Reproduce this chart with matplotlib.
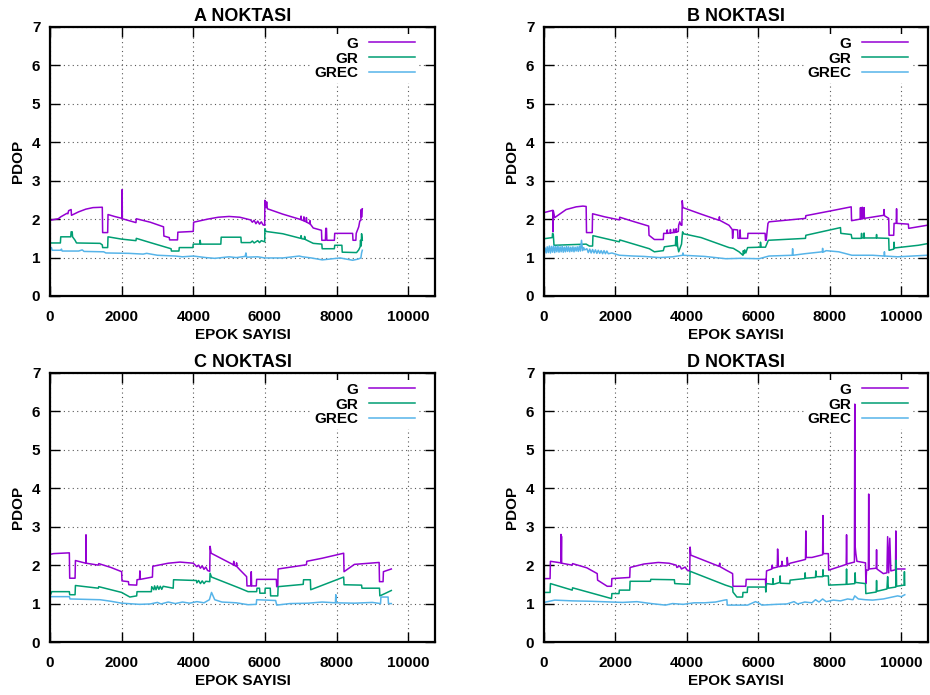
import numpy as np
import matplotlib
matplotlib.use('Agg')
import matplotlib.pyplot as plt

plt.rcParams['font.family'] = ['Liberation Sans', 'DejaVu Sans']
plt.rcParams['font.weight'] = 'bold'
plt.rcParams['axes.labelweight'] = 'bold'
plt.rcParams['path.simplify'] = False  # keep the one-epoch spikes at full height

# (epoch, PDOP) breakpoints, one list per station / system
a_g = [(0, 1.97), (230, 2.01), (300, 2.06), (470, 2.15), (500, 2.14), (520, 2.22), (590, 2.25), (600, 2.10),
       (800, 2.19), (1000, 2.26), (1200, 2.30), (1460, 2.31), (1470, 1.65), (1610, 1.65), (1620, 2.12),
       (1800, 2.07), (2010, 2.02), (2015, 2.77), (2020, 2.01), (2400, 1.91), (2410, 2.01), (2800, 1.92),
       (3170, 1.80), (3180, 1.56), (3330, 1.52), (3340, 1.46), (3560, 1.46), (3570, 1.66), (4000, 1.68),
       (4010, 1.92), (4400, 2.00), (4700, 2.05), (5000, 2.07), (5300, 2.05), (5600, 1.98), (5650, 1.92),
       (5700, 1.97), (5750, 1.88), (5800, 1.95), (5850, 1.87), (5900, 1.93), (5950, 1.85), (5995, 1.84),
       (6000, 2.49), (6030, 2.30), (6050, 2.45), (6070, 2.27), (6500, 2.13), (7000, 1.99), (7010, 2.08),
       (7020, 1.98), (7080, 1.96), (7090, 2.06), (7100, 1.95), (7150, 1.93), (7160, 2.04), (7170, 1.92),
       (7250, 1.88), (7260, 1.96), (7270, 1.87), (7350, 1.77), (7580, 1.71), (7590, 1.45), (7690, 1.45),
       (7700, 1.76), (7720, 1.76), (7730, 1.45), (7940, 1.45), (7950, 1.63), (8450, 1.63), (8460, 1.45),
       (8540, 1.45), (8550, 1.63), (8620, 1.80), (8650, 1.95), (8680, 1.97), (8690, 2.25), (8700, 2.05),
       (8720, 2.27)]
a_gr = [(0, 1.38), (290, 1.38), (300, 1.54), (580, 1.54), (590, 1.67), (620, 1.67), (630, 1.54), (700, 1.45),
        (740, 1.38), (1400, 1.37), (1460, 1.33), (1470, 1.26), (1610, 1.26), (1620, 1.54), (2000, 1.48),
        (2400, 1.44), (2410, 1.50), (2800, 1.39), (3380, 1.23), (3390, 1.17), (3600, 1.17), (3610, 1.26),
        (3990, 1.26), (4000, 1.35), (4180, 1.35), (4190, 1.45), (4210, 1.35), (4770, 1.35), (4780, 1.53),
        (5330, 1.53), (5340, 1.39), (5600, 1.39), (5650, 1.43), (5700, 1.38), (5800, 1.44), (5850, 1.39),
        (5900, 1.44), (5995, 1.41), (6000, 1.75), (6030, 1.68), (6500, 1.62), (7000, 1.50), (7010, 1.57),
        (7030, 1.49), (7100, 1.48), (7110, 1.55), (7130, 1.47), (7350, 1.37), (7590, 1.35), (7600, 1.23),
        (7940, 1.23), (7950, 1.32), (8150, 1.32), (8160, 1.14), (8560, 1.13), (8620, 1.20), (8660, 1.28),
        (8670, 1.45), (8690, 1.30), (8700, 1.62), (8720, 1.45)]
a_grec = [(0, 1.23), (40, 1.26), (60, 1.19), (300, 1.19), (320, 1.22), (340, 1.17), (800, 1.17), (900, 1.20),
          (950, 1.16), (1500, 1.15), (1560, 1.12), (2200, 1.11), (2600, 1.09), (2700, 1.11), (3000, 1.06),
          (3500, 1.04), (3700, 1.02), (4000, 1.04), (4350, 1.00), (4600, 0.98), (5000, 1.02), (5200, 1.00),
          (5450, 1.03), (5470, 1.12), (5490, 1.01), (5800, 1.02), (6000, 0.99), (6500, 0.99), (6960, 1.04),
          (7050, 1.02), (7300, 0.99), (7600, 0.94), (7900, 0.97), (8100, 0.99), (8450, 0.93), (8600, 0.96),
          (8680, 0.99), (8700, 1.12), (8720, 1.19)]

b_g = [(0, 2.17), (250, 2.23), (255, 1.67), (260, 2.22), (300, 2.04), (620, 2.25), (900, 2.32), (1090, 2.34),
       (1180, 2.33), (1190, 1.65), (1350, 1.65), (1360, 2.14), (1700, 2.06), (2110, 1.98), (2120, 2.05),
       (2500, 1.94), (2930, 1.82), (2940, 1.58), (3090, 1.47), (3340, 1.47), (3350, 1.63), (3440, 1.63),
       (3450, 1.72), (3460, 1.63), (3530, 1.64), (3540, 1.73), (3550, 1.64), (3620, 1.65), (3630, 1.74),
       (3640, 1.65), (3690, 1.66), (3700, 1.75), (3710, 1.66), (3760, 1.68), (3770, 1.84), (3800, 1.93),
       (3830, 1.85), (3860, 1.84), (3870, 2.48), (3890, 2.30), (4400, 2.13), (4900, 1.97), (4910, 2.06),
       (4920, 1.97), (5180, 1.84), (5270, 1.73), (5280, 1.50), (5300, 1.73), (5420, 1.72), (5430, 1.50),
       (5480, 1.50), (5490, 1.72), (5500, 1.50), (5700, 1.50), (5710, 1.63), (6190, 1.63), (6200, 1.45),
       (6220, 1.45), (6270, 1.89), (6300, 1.93), (7320, 2.02), (7330, 2.09), (8000, 2.21), (8600, 2.32),
       (8610, 1.96), (8850, 2.00), (8860, 2.30), (8870, 2.00), (8900, 2.01), (8910, 2.31), (8920, 2.01),
       (8950, 2.02), (8960, 2.30), (8970, 2.02), (9510, 2.10), (9520, 2.25), (9530, 2.09), (9650, 2.02),
       (9660, 1.58), (9790, 1.58), (9800, 1.89), (9860, 1.89), (9870, 2.27), (9880, 1.89), (10200, 1.87),
       (10210, 1.76), (10720, 1.84)]
b_gr = [(0, 1.49), (230, 1.52), (240, 1.63), (260, 1.60), (280, 1.32), (1180, 1.35), (1270, 1.30), (1360, 1.30),
        (1370, 1.57), (2110, 1.41), (2120, 1.46), (2950, 1.23), (3090, 1.15), (3340, 1.18), (3370, 1.28),
        (3680, 1.32), (3690, 1.54), (3700, 1.30), (3720, 1.55), (3740, 1.30), (3770, 1.15), (3850, 1.35),
        (3880, 1.67), (3900, 1.62), (4400, 1.52), (5180, 1.26), (5300, 1.24), (5460, 1.15), (5570, 1.06),
        (5580, 1.18), (5600, 1.10), (5620, 1.20), (5650, 1.12), (5700, 1.26), (6050, 1.27), (6060, 1.40),
        (6080, 1.27), (6200, 1.27), (6280, 1.45), (7320, 1.50), (7330, 1.58), (8300, 1.78), (8310, 1.63),
        (8600, 1.60), (8620, 1.50), (8880, 1.50), (8890, 1.63), (8900, 1.51), (8950, 1.51), (8960, 1.64),
        (8970, 1.51), (9300, 1.51), (9310, 1.60), (9320, 1.51), (9650, 1.50), (9660, 1.19), (9790, 1.22),
        (9800, 1.40), (9810, 1.25), (10480, 1.32), (10720, 1.36)]
b_grec = [(0, 1.14), (30, 1.25), (60, 1.12), (90, 1.28), (120, 1.13), (150, 1.30), (180, 1.12), (210, 1.29),
          (240, 1.14), (270, 1.31), (300, 1.13), (330, 1.29), (360, 1.15), (390, 1.30), (420, 1.14), (450, 1.28),
          (480, 1.15), (510, 1.30), (540, 1.14), (570, 1.27), (600, 1.15), (630, 1.29), (660, 1.16), (690, 1.28),
          (720, 1.15), (750, 1.27), (780, 1.16), (810, 1.28), (840, 1.15), (870, 1.27), (900, 1.17), (930, 1.28),
          (960, 1.16), (990, 1.30), (1020, 1.17), (1050, 1.45), (1080, 1.18), (1110, 1.26), (1140, 1.20),
          (1200, 1.23), (1240, 1.13), (1280, 1.22), (1320, 1.12), (1360, 1.21), (1400, 1.12), (1440, 1.20),
          (1480, 1.11), (1520, 1.19), (1560, 1.11), (1600, 1.18), (1640, 1.10), (1680, 1.18), (1720, 1.10),
          (1760, 1.17), (1800, 1.10), (1900, 1.12), (2110, 1.06), (2500, 1.04), (2800, 1.03), (3230, 1.00),
          (3600, 1.02), (3880, 1.06), (3890, 1.12), (3900, 1.06), (4500, 1.03), (5090, 0.97), (5500, 0.98),
          (6020, 0.97), (6300, 1.04), (6950, 1.06), (6960, 1.23), (6970, 1.06), (7300, 1.10), (7790, 1.15),
          (7800, 1.24), (7810, 1.14), (7900, 1.18), (8250, 1.15), (8620, 1.06), (9200, 1.06), (9520, 1.04),
          (9530, 1.15), (9540, 1.04), (9900, 1.02), (10720, 1.06)]

c_g = [(0, 2.28), (100, 2.30), (540, 2.32), (550, 1.66), (700, 1.66), (710, 2.12), (1000, 2.05), (1005, 2.79),
       (1010, 2.05), (1350, 2.00), (1360, 2.04), (1700, 1.94), (2000, 1.83), (2010, 1.59), (2190, 1.57),
       (2200, 1.49), (2420, 1.48), (2430, 1.62), (2500, 1.63), (2510, 1.85), (2520, 1.63), (2860, 1.69),
       (2870, 1.97), (3300, 2.05), (3630, 2.08), (4000, 2.05), (4100, 1.96), (4150, 2.00), (4200, 1.92),
       (4250, 1.98), (4300, 1.89), (4350, 1.95), (4400, 1.86), (4460, 1.84), (4470, 2.49), (4500, 2.31),
       (5120, 2.01), (5130, 2.10), (5140, 2.00), (5200, 1.97), (5210, 2.06), (5220, 1.96), (5300, 1.88),
       (5490, 1.70), (5500, 1.46), (5610, 1.46), (5620, 1.83), (5630, 1.46), (5760, 1.46), (5770, 1.63),
       (6320, 1.63), (6330, 1.44), (6360, 1.44), (6370, 1.90), (7160, 2.01), (7170, 2.10), (7600, 2.18),
       (8200, 2.31), (8210, 1.83), (8500, 2.02), (9190, 2.07), (9200, 1.57), (9300, 1.57), (9310, 1.83),
       (9530, 1.90)]
c_gr = [(0, 1.20), (50, 1.31), (540, 1.31), (550, 1.23), (700, 1.23), (710, 1.47), (1350, 1.40), (1360, 1.44),
        (2000, 1.29), (2230, 1.17), (2420, 1.20), (2430, 1.31), (2830, 1.31), (2840, 1.44), (2900, 1.36),
        (2920, 1.46), (2960, 1.36), (3000, 1.46), (3040, 1.37), (3080, 1.45), (3120, 1.37), (3160, 1.45),
        (3440, 1.40), (3450, 1.62), (4090, 1.60), (4100, 1.54), (4150, 1.60), (4200, 1.52), (4250, 1.59),
        (4300, 1.52), (4350, 1.58), (4460, 1.57), (4470, 1.79), (4510, 1.69), (5300, 1.40), (5530, 1.31),
        (5770, 1.31), (5780, 1.40), (5850, 1.40), (5860, 1.27), (6000, 1.27), (6010, 1.40), (6150, 1.40),
        (6160, 1.20), (6360, 1.20), (6370, 1.44), (7070, 1.50), (7080, 1.62), (7270, 1.62), (7280, 1.36),
        (8200, 1.69), (8210, 1.49), (8700, 1.48), (8710, 1.40), (9200, 1.40), (9210, 1.20), (9350, 1.26),
        (9530, 1.34)]
c_grec = [(0, 1.18), (540, 1.18), (560, 1.12), (1400, 1.10), (1700, 1.06), (2000, 1.01), (2500, 0.98),
          (2800, 0.99), (3000, 1.03), (3100, 0.99), (3300, 1.04), (3500, 1.00), (3700, 1.04), (3900, 1.01),
          (4100, 1.05), (4300, 1.02), (4450, 1.10), (4510, 1.29), (4600, 1.10), (4800, 1.04), (5200, 1.02),
          (5530, 0.97), (5760, 0.98), (5770, 1.10), (6300, 1.08), (6330, 0.96), (6700, 1.00), (7200, 1.01),
          (7600, 1.04), (7970, 1.02), (7980, 1.23), (7990, 1.02), (8500, 1.01), (9000, 1.03), (9230, 1.00),
          (9240, 1.17), (9440, 1.17), (9450, 1.00), (9530, 1.00)]

d_g = [(0, 1.65), (170, 1.65), (180, 2.10), (470, 2.06), (475, 2.80), (480, 2.06), (490, 2.75), (495, 2.05),
       (790, 2.00), (800, 2.04), (1200, 1.93), (1490, 1.78), (1500, 1.61), (1770, 1.45), (1890, 1.45),
       (1900, 1.65), (2400, 1.68), (2410, 1.94), (2800, 2.03), (3200, 2.07), (3500, 2.05), (3700, 2.00),
       (3720, 1.94), (3800, 1.98), (3850, 1.90), (3950, 1.95), (4000, 1.88), (4080, 1.84), (4090, 2.47),
       (4110, 2.26), (4600, 2.08), (4900, 1.97), (4920, 2.05), (4930, 1.96), (5100, 1.87), (5280, 1.78),
       (5290, 1.45), (5650, 1.45), (5660, 1.63), (6200, 1.63), (6210, 1.43), (6230, 1.85), (6380, 1.90),
       (6390, 2.00), (6400, 1.92), (6530, 1.95), (6540, 2.42), (6560, 1.96), (6650, 1.97), (6660, 2.10),
       (6680, 1.98), (6800, 1.98), (6810, 2.20), (6830, 2.00), (6890, 2.05), (7200, 2.12), (7320, 2.15),
       (7330, 2.89), (7340, 2.20), (7500, 2.20), (7800, 2.27), (7810, 3.29), (7820, 2.30), (7960, 2.30),
       (7970, 1.87), (8400, 2.00), (8460, 2.02), (8470, 2.79), (8480, 2.03), (8690, 2.08), (8700, 6.19),
       (8710, 2.50), (8730, 2.30), (8760, 2.10), (9000, 2.06), (9010, 1.52), (9030, 1.87), (9080, 1.87),
       (9090, 3.85), (9100, 1.90), (9300, 1.92), (9310, 2.40), (9320, 1.90), (9500, 1.78), (9600, 1.80),
       (9620, 2.74), (9650, 1.80), (9680, 2.70), (9710, 1.85), (9840, 1.88), (9850, 2.89), (9860, 1.90),
       (10100, 1.90)]
d_gr = [(0, 1.29), (170, 1.29), (180, 1.52), (790, 1.35), (800, 1.41), (1890, 1.13), (1900, 1.26), (2100, 1.26),
        (2110, 1.35), (2400, 1.35), (2410, 1.58), (2980, 1.58), (2990, 1.63), (3650, 1.62), (3660, 1.52),
        (4080, 1.50), (4090, 1.84), (5080, 1.48), (5280, 1.42), (5290, 1.30), (5400, 1.17), (5560, 1.17),
        (5570, 1.29), (5690, 1.29), (5700, 1.43), (6200, 1.43), (6210, 1.30), (6230, 1.52), (6400, 1.50),
        (6410, 1.65), (6420, 1.50), (6600, 1.55), (6610, 1.72), (6620, 1.53), (6880, 1.52), (6890, 1.61),
        (7300, 1.65), (7310, 1.80), (7320, 1.66), (7600, 1.68), (7610, 1.85), (7620, 1.70), (7800, 1.70),
        (7810, 1.88), (7820, 1.72), (7960, 1.72), (7970, 1.48), (8460, 1.50), (8470, 1.90), (8480, 1.50),
        (8700, 1.52), (8710, 1.80), (8720, 1.55), (9000, 1.52), (9010, 1.26), (9300, 1.30), (9310, 1.60),
        (9320, 1.32), (9600, 1.38), (9620, 1.70), (9640, 1.40), (9850, 1.43), (9860, 2.13), (9870, 1.45),
        (10080, 1.48), (10090, 1.83), (10100, 1.48)]
d_grec = [(0, 1.03), (300, 1.09), (800, 1.07), (1300, 1.06), (2200, 1.03), (2600, 1.05), (3000, 1.00),
          (3400, 0.96), (3600, 1.00), (3900, 0.98), (4200, 1.02), (4500, 1.02), (4800, 1.04), (5050, 1.09),
          (5120, 1.10), (5130, 0.96), (5700, 0.96), (5920, 1.05), (6000, 1.02), (6100, 0.96), (6500, 0.98),
          (6800, 0.99), (7000, 1.05), (7100, 0.99), (7300, 1.04), (7500, 1.02), (7600, 1.10), (7700, 1.04),
          (7800, 1.12), (7900, 1.05), (8100, 1.09), (8300, 1.07), (8500, 1.12), (8650, 1.10), (8700, 1.20),
          (8800, 1.12), (9000, 1.10), (9200, 1.09), (9500, 1.12), (9700, 1.16), (9900, 1.20), (10000, 1.18),
          (10100, 1.23)]

titles = ['A NOKTASI', 'B NOKTASI', 'C NOKTASI', 'D NOKTASI']
panels = [[a_g, a_gr, a_grec], [b_g, b_gr, b_grec], [c_g, c_gr, c_grec], [d_g, d_gr, d_grec]]
names = ['G', 'GR', 'GREC']
colors = ['#9400d3', '#009e73', '#56b4e9']
xticks = [0, 2000, 4000, 6000, 8000, 10000]
yticks = [0, 1, 2, 3, 4, 5, 6, 7]

W, H = 930, 695
# axes boxes in pixels: left, top, right, bottom
boxes = [(50, 27, 435, 296), (544, 27, 928, 296), (50, 373, 435, 642), (544, 373, 928, 642)]

fig = plt.figure(figsize=(W / 100, H / 100), dpi=100)

for box, title, series in zip(boxes, titles, panels):
    l, t, r, b = box
    ax = fig.add_axes([l / W, 1 - b / H, (r - l) / W, (b - t) / H])
    for data, name, col in zip(series, names, colors):
        arr = np.array(data)
        ax.plot(arr[:, 0], arr[:, 1], color=col, lw=1.1, label=name, zorder=3)

    ax.set_xlim(0, 10750)
    ax.set_ylim(0, 7)
    ax.set_xticks(xticks)
    ax.set_yticks(yticks)
    ax.tick_params(direction='in', top=True, right=True, length=7, width=1,
                   labelsize=11, pad=7)
    ax.tick_params(axis='x', pad=10)
    for sp in ax.spines.values():
        sp.set_linewidth(1.6)
        sp.set_zorder(4)
    ax.set_axisbelow(True)
    ax.grid(True, color='0.35', linestyle=(0, (1, 3)), linewidth=0.8)

    ax.set_title(title, fontsize=13, fontweight='bold', pad=4)
    ax.set_xlabel('EPOK SAYISI', fontsize=11, fontweight='bold', labelpad=3)
    ax.set_ylabel('PDOP', fontsize=11, fontweight='bold', labelpad=5)

    # key box hides the grid but sits below the data, as in gnuplot
    leg = ax.legend(loc='upper right', bbox_to_anchor=(0.955, 0.975), markerfirst=False,
                    frameon=True, fancybox=False, framealpha=1, facecolor='white', edgecolor='none',
                    handlelength=3.0, handletextpad=0.7, labelspacing=0.05, borderpad=0.2,
                    borderaxespad=0, prop={'size': 11, 'weight': 'bold'})
    leg.set_zorder(2)

fig.savefig('out.png', dpi=100)
